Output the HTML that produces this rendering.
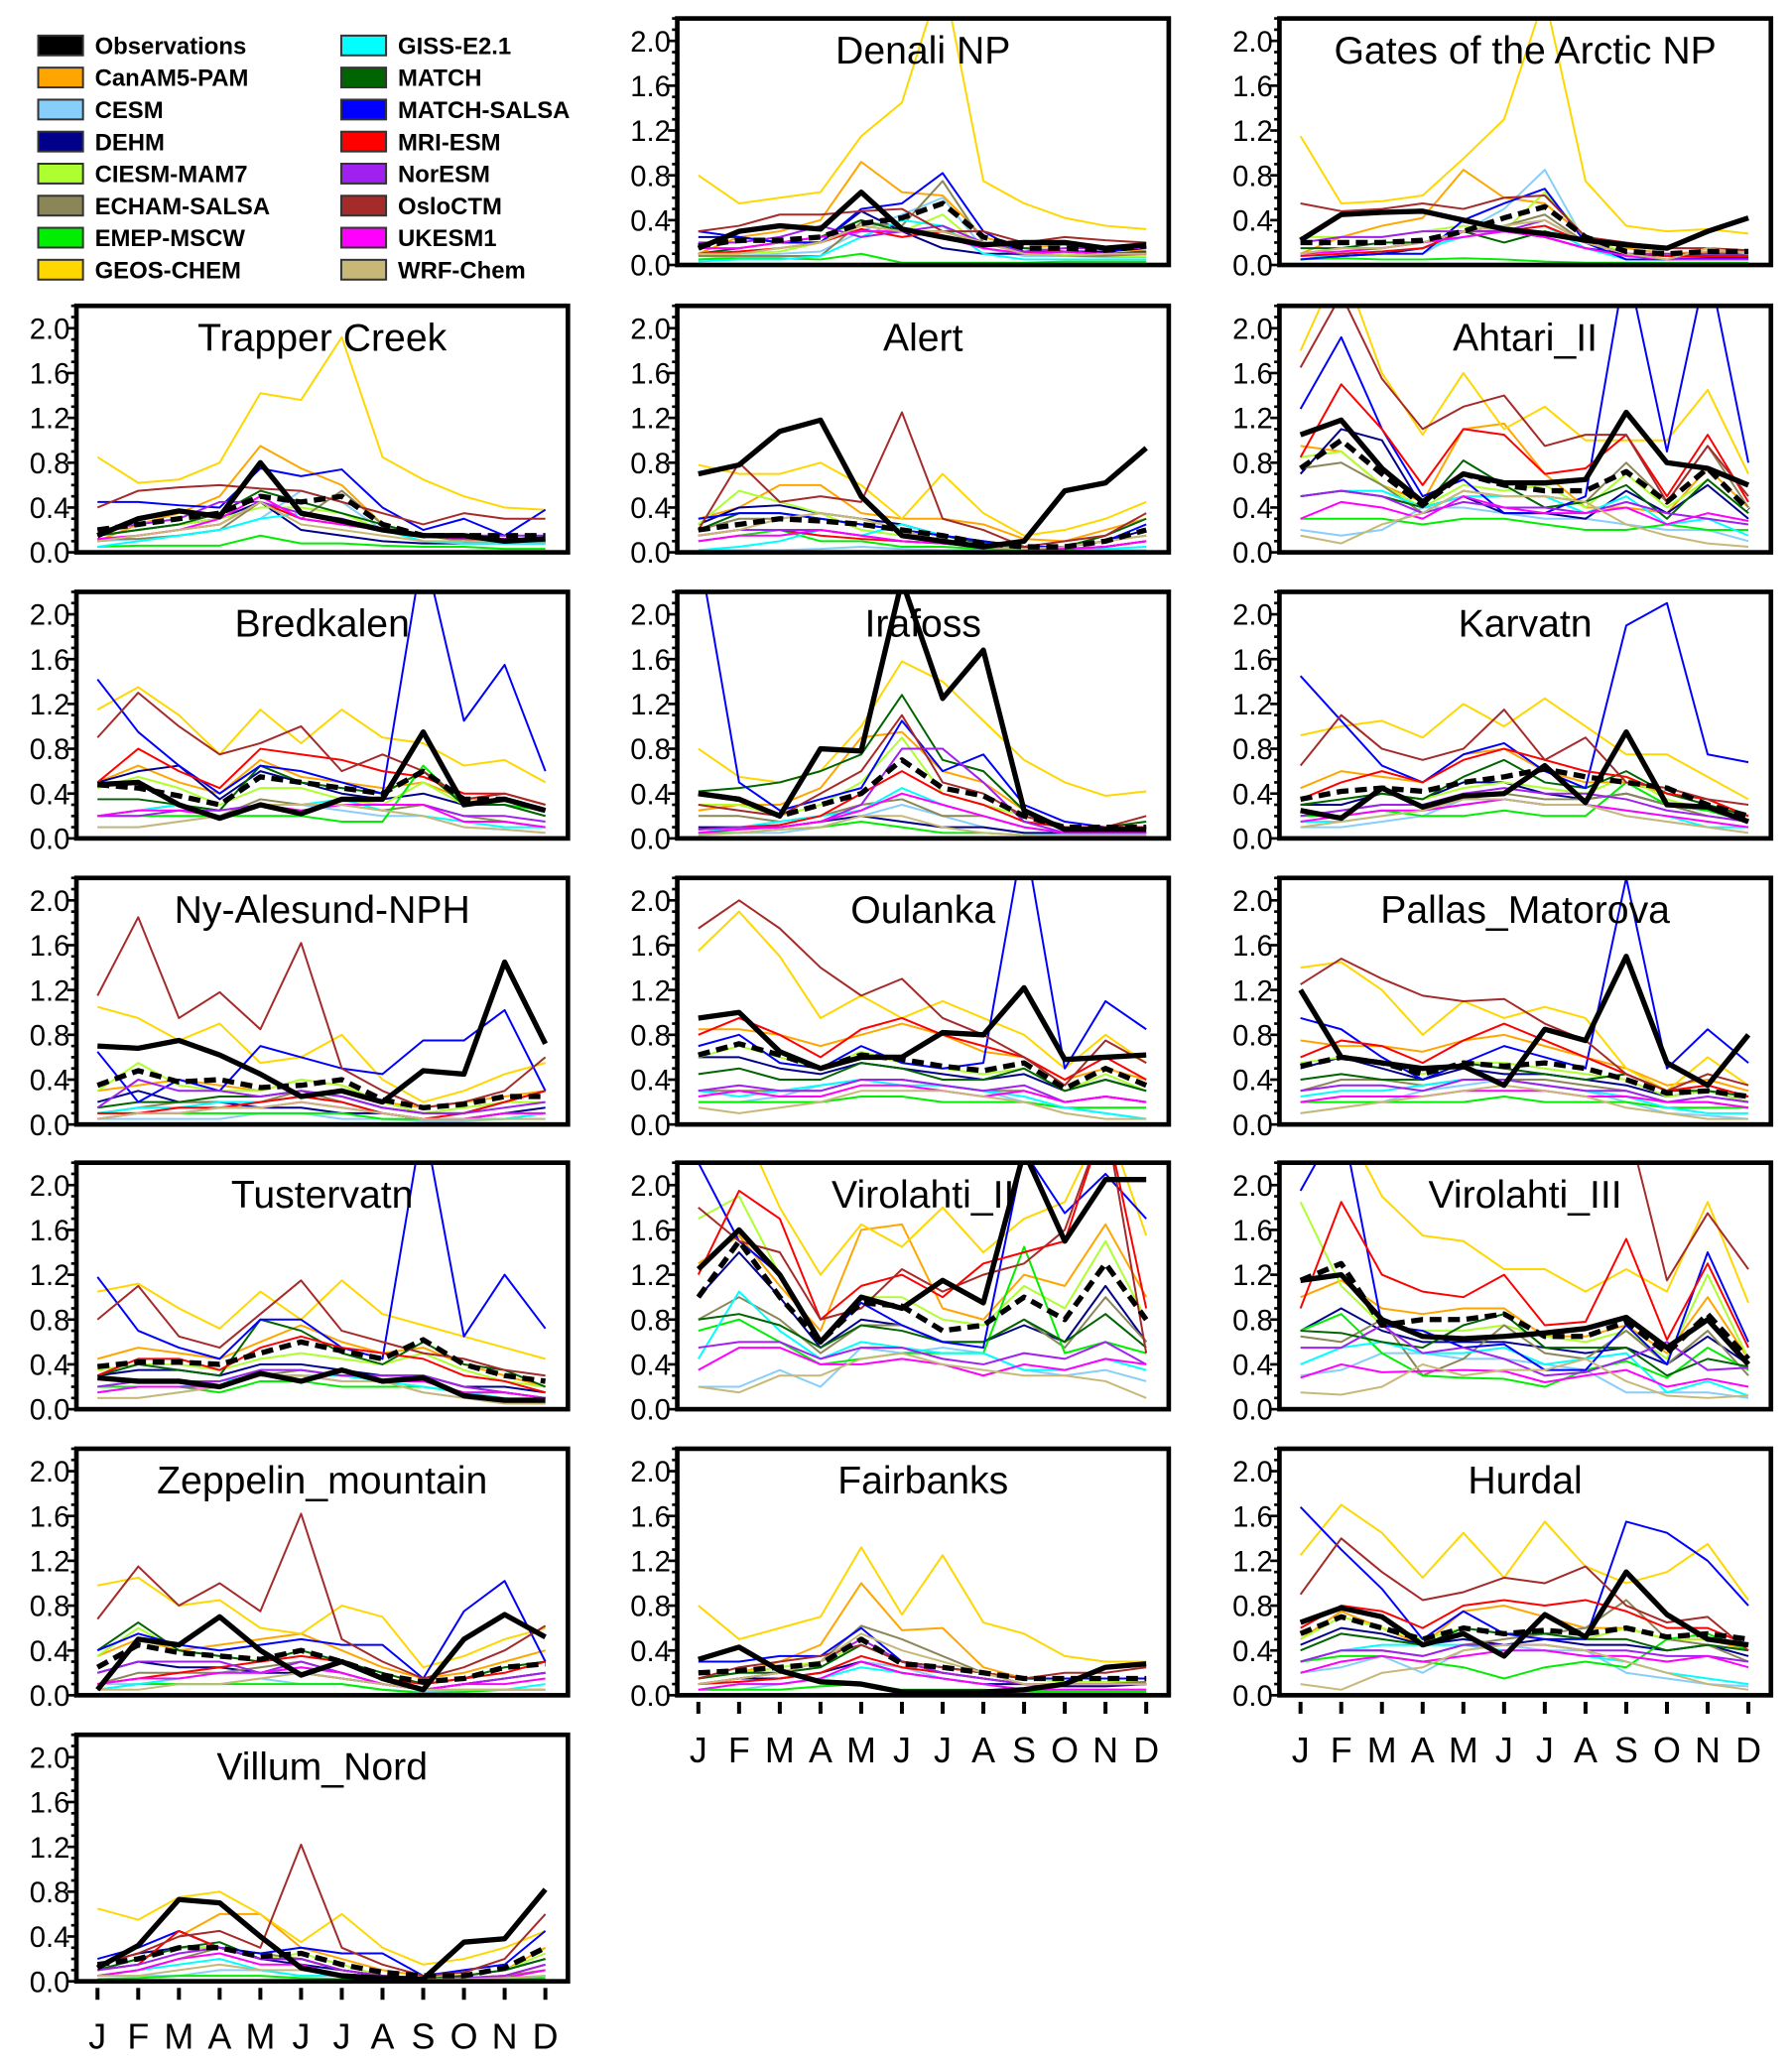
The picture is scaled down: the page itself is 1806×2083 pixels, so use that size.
<!DOCTYPE html>
<html><head><meta charset="utf-8">
<style>
html,body{margin:0;padding:0;background:#fff;}
svg{display:block;font-family:"Liberation Sans",sans-serif;}
</style></head>
<body>
<svg id="chart" width="1806" height="2083" viewBox="0 0 1360 1568" preserveAspectRatio="none" xmlns="http://www.w3.org/2000/svg">
<rect x="0" y="0" width="1360" height="1568" fill="#fff"/>
</svg>
<script>
const months=["J","F","M","A","M","J","J","A","S","O","N","D"];
const sites=["Denali NP","Gates of the Arctic NP","Trapper Creek","Alert","Ahtari_II","Bredkalen","Irafoss","Karvatn","Ny-Alesund-NPH","Oulanka","Pallas_Matorova","Tustervatn","Virolahti_II","Virolahti_III","Zeppelin_mountain","Fairbanks","Hurdal","Villum_Nord"];
const yTicks=[0,0.4,0.8,1.2,1.6,2.0];
const yTickLabels=["0.0","0.4","0.8","1.2","1.6","2.0"];
const obs=[
[.15,.3,.35,.32,.65,.32,.25,.18,.2,.2,.15,.18],
[.22,.45,.47,.48,.4,.32,.28,.22,.18,.15,.3,.42],
[.15,.3,.37,.32,.8,.35,.28,.2,.15,.15,.1,.12],
[.7,.78,1.08,1.18,.5,.15,.1,.05,.1,.55,.62,.93],
[1.05,1.18,.75,.45,.7,.62,.62,.65,1.25,.8,.75,.6],
[.48,.5,.3,.18,.3,.22,.35,.35,.95,.3,.35,.25],
[.4,.35,.2,.8,.78,2.3,1.25,1.68,.25,.08,.08,.08],
[.25,.18,.45,.28,.38,.4,.65,.32,.95,.3,.28,.15],
[.7,.68,.75,.62,.45,.25,.3,.2,.48,.45,1.45,.72],
[.95,1.0,.65,.5,.6,.6,.82,.8,1.22,.58,.6,.62],
[1.2,.6,.55,.5,.52,.35,.85,.75,1.5,.55,.35,.8],
[.28,.25,.25,.2,.32,.25,.35,.25,.28,.12,.08,.08],
[1.25,1.6,1.2,.6,1.0,.9,1.15,.95,2.3,1.5,2.05,2.05],
[1.15,1.2,.8,.65,.63,.65,.68,.72,.82,.55,.8,.4],
[.05,.5,.45,.7,.4,.18,.3,.15,.05,.5,.72,.52],
[.32,.43,.22,.12,.1,.03,.03,.03,.05,.1,.25,.28],
[.65,.78,.7,.45,.55,.35,.72,.52,1.1,.72,.5,.45],
[.12,.32,.73,.7,.4,.12,.05,.03,.02,.35,.38,.82]];
const ensMean=[
[.17,.22,.22,.25,.37,.42,.55,.25,.15,.15,.13,.17],
[.2,.2,.2,.22,.3,.42,.52,.25,.12,.1,.12,.12],
[.2,.25,.3,.35,.5,.45,.5,.25,.15,.15,.15,.15],
[.2,.25,.3,.28,.25,.2,.15,.08,.05,.05,.1,.2],
[.75,1.0,.7,.42,.7,.6,.55,.55,.72,.45,.75,.38],
[.48,.45,.38,.3,.55,.5,.45,.4,.6,.35,.35,.25],
[.4,.35,.2,.3,.4,.7,.45,.38,.2,.1,.1,.1],
[.35,.42,.45,.42,.5,.55,.62,.55,.5,.45,.3,.2],
[.35,.48,.38,.4,.33,.35,.4,.22,.15,.18,.25,.25],
[.62,.72,.62,.5,.62,.58,.52,.48,.55,.32,.5,.35],
[.52,.6,.55,.45,.55,.52,.55,.5,.4,.28,.3,.25],
[.38,.42,.42,.4,.5,.6,.52,.45,.62,.4,.3,.25],
[1.0,1.5,1.0,.6,.95,.92,.7,.75,1.0,.8,1.3,.8],
[1.15,1.3,.75,.8,.8,.85,.65,.65,.78,.5,.85,.45],
[.25,.45,.38,.35,.32,.4,.3,.18,.12,.15,.25,.28],
[.2,.22,.25,.28,.5,.28,.25,.2,.15,.15,.15,.15],
[.55,.7,.6,.5,.6,.55,.58,.55,.6,.52,.55,.5],
[.15,.2,.3,.3,.22,.25,.15,.08,.05,.05,.12,.3]];
const canam=[
[.1,.25,.3,.4,.92,.65,.62,.25,.15,.18,.15,.12],[.1,.25,.35,.42,.85,.6,.55,.25,.15,.1,.12,.12],[.1,.25,.35,.5,.95,.75,.6,.25,.15,.15,.12,.12],[.3,.4,.6,.6,.35,.3,.3,.25,.12,.1,.2,.3],[.95,.9,.6,.45,1.1,1.15,.7,.4,.4,.35,.75,.4],[.5,.65,.5,.4,.7,.55,.5,.45,.5,.35,.35,.25],[.25,.3,.3,.45,.9,.95,.6,.5,.25,.1,.1,.15],[.45,.6,.55,.5,.75,.8,.6,.5,.5,.4,.35,.2],[.3,.35,.4,.35,.3,.4,.35,.2,.15,.2,.25,.3],[.85,.85,.8,.7,.8,.9,.8,.65,.6,.4,.5,.4],[.75,.7,.7,.65,.75,.8,.7,.6,.5,.35,.4,.3],[.45,.55,.5,.45,.6,.75,.6,.5,.55,.4,.3,.2],[1.3,1.55,1.1,.7,1.6,1.65,.9,.8,1.2,1.1,1.65,1.0],[1.0,1.15,.9,.85,.9,.9,.65,.65,.75,.5,1.0,.45],[.35,.5,.4,.45,.5,.55,.4,.25,.15,.2,.3,.4],[.15,.2,.3,.45,1.0,.58,.6,.25,.15,.15,.15,.15],[.5,.75,.6,.45,.75,.8,.7,.6,.6,.5,.5,.4],[.15,.25,.4,.6,.6,.3,.2,.1,.05,.05,.1,.3]];
const cesm=[
[.05,.08,.1,.12,.3,.45,.6,.15,.08,.08,.07,.07],[.05,.08,.1,.1,.3,.5,.85,.2,.05,.05,.05,.05],[.1,.12,.15,.2,.3,.55,.45,.2,.1,.08,.08,.08],[.02,.02,.02,.03,.05,.03,.02,.02,.02,.02,.02,.02],[.2,.15,.2,.4,.4,.35,.3,.3,.25,.2,.2,.1],[.1,.1,.15,.2,.3,.3,.25,.2,.2,.1,.08,.05],[.05,.05,.05,.1,.2,.3,.2,.1,.05,.03,.03,.03],[.1,.1,.15,.2,.35,.35,.3,.3,.2,.15,.1,.05],[.05,.05,.05,.05,.1,.1,.05,.05,.03,.03,.05,.05],[.2,.2,.25,.35,.4,.4,.35,.3,.2,.15,.1,.05],[.1,.15,.2,.3,.35,.4,.35,.3,.2,.1,.08,.05],[.1,.1,.15,.2,.3,.3,.25,.25,.15,.1,.08,.05],[.2,.2,.35,.2,.55,.5,.55,.5,.35,.3,.35,.25],[.3,.35,.5,.5,.45,.45,.4,.35,.15,.15,.15,.1],[.1,.1,.1,.1,.15,.1,.1,.05,.03,.05,.05,.05],[.05,.05,.1,.15,.3,.25,.15,.1,.05,.05,.05,.05],[.2,.25,.35,.2,.4,.45,.4,.4,.2,.15,.1,.08],[.05,.05,.05,.1,.1,.05,.05,.03,.02,.02,.03,.05]];
const dehm=[
[.25,.25,.2,.2,.48,.3,.15,.1,.1,.12,.12,.15],[.05,.08,.1,.15,.3,.3,.25,.15,.1,.08,.07,.07],[.15,.2,.25,.3,.45,.2,.15,.1,.08,.08,.08,.08],[.25,.4,.42,.35,.3,.25,.15,.1,.05,.05,.1,.2],[.7,1.1,1.0,.4,.5,.35,.35,.3,.55,.35,.6,.3],[.5,.6,.65,.35,.6,.5,.4,.35,.4,.3,.3,.2],[.1,.1,.1,.15,.2,.15,.1,.1,.05,.05,.05,.05],[.3,.3,.4,.35,.5,.5,.4,.35,.4,.3,.25,.15],[.2,.3,.2,.2,.15,.15,.1,.1,.05,.05,.1,.15],[.6,.6,.5,.45,.55,.5,.45,.4,.45,.3,.4,.3],[.5,.6,.5,.4,.5,.45,.45,.4,.35,.25,.3,.2],[.3,.35,.35,.3,.4,.4,.35,.3,.3,.2,.2,.15],[1.0,1.4,1.0,.55,.8,.75,.6,.6,.75,.6,1.1,.6],[.7,.9,.7,.6,.6,.6,.55,.5,.55,.4,.65,.4],[.2,.3,.25,.25,.2,.2,.15,.1,.05,.1,.15,.2],[.1,.15,.15,.2,.3,.2,.15,.1,.1,.08,.08,.1],[.45,.6,.55,.45,.5,.45,.5,.45,.45,.4,.45,.35],[.15,.25,.3,.3,.2,.15,.1,.05,.03,.05,.1,.2]];
const ciesm=[
[.08,.1,.12,.2,.35,.3,.45,.15,.1,.1,.08,.08],[.25,.25,.25,.3,.35,.3,.65,.25,.1,.08,.1,.1],[.15,.2,.25,.3,.4,.4,.35,.2,.1,.1,.1,.1],[.25,.55,.45,.35,.2,.15,.1,.05,.05,.05,.1,.15],[.85,.9,.6,.4,.6,.55,.6,.4,.7,.4,.65,.35],[.45,.55,.45,.3,.45,.45,.35,.3,.5,.3,.3,.2],[.3,.3,.2,.3,.5,.9,.4,.3,.2,.1,.1,.1],[.3,.35,.4,.35,.45,.5,.45,.4,.55,.35,.25,.15],[.3,.55,.35,.3,.3,.4,.35,.2,.1,.15,.2,.2],[.6,.7,.6,.5,.65,.55,.5,.45,.5,.3,.45,.3],[.55,.6,.55,.45,.55,.55,.5,.45,.4,.25,.3,.2],[.35,.4,.4,.35,.45,.5,.45,.4,.5,.35,.25,.2],[1.7,1.9,1.2,.6,1.0,1.0,.8,.75,1.1,.9,1.5,.8],[1.85,1.1,.75,.7,.7,.75,.65,.6,.7,.45,1.2,.45],[.35,.6,.4,.35,.3,.4,.3,.2,.1,.15,.25,.3],[.15,.2,.25,.3,.45,.3,.25,.2,.15,.12,.12,.12],[.5,.7,.6,.5,.6,.55,.55,.5,.6,.5,.5,.45],[.1,.2,.3,.3,.2,.25,.15,.05,.03,.05,.1,.25]];
const echam=[
[.08,.08,.08,.08,.38,.35,.75,.2,.1,.08,.08,.1],[.1,.15,.15,.2,.3,.35,.45,.2,.1,.05,.08,.1],[.12,.12,.15,.2,.45,.3,.55,.25,.15,.1,.08,.1],[.2,.3,.3,.35,.3,.2,.1,.05,.05,.05,.1,.15],[.75,.8,.6,.35,.55,.5,.5,.45,.8,.45,.95,.4],[.2,.25,.3,.2,.35,.3,.3,.25,.3,.2,.15,.1],[.2,.2,.15,.2,.3,.35,.2,.2,.1,.05,.05,.05],[.2,.25,.3,.3,.35,.4,.35,.35,.4,.3,.2,.15],[.1,.15,.2,.2,.2,.3,.2,.1,.05,.05,.1,.1],[.3,.3,.3,.3,.4,.4,.35,.3,.3,.2,.25,.2],[.3,.4,.4,.35,.4,.4,.4,.35,.3,.2,.2,.15],[.2,.25,.25,.25,.3,.35,.3,.3,.3,.2,.15,.1],[.8,1.0,.8,.5,.75,.75,.6,.6,.8,.55,1.0,.6],[.65,.6,.8,.3,.45,.75,.5,.45,.7,.4,.7,.3],[.1,.2,.2,.2,.25,.3,.2,.1,.05,.1,.15,.2],[.1,.15,.2,.3,.62,.5,.35,.2,.1,.1,.1,.12],[.3,.4,.4,.35,.45,.5,.55,.6,.85,.5,.45,.3],[.05,.1,.2,.3,.25,.2,.1,.05,.02,.03,.05,.1]];
const emep=[
[.05,.06,.06,.05,.1,.02,.02,.02,.02,.03,.03,.03],[.05,.06,.05,.05,.06,.05,.03,.02,.02,.02,.02,.02],[.05,.06,.06,.06,.15,.08,.08,.06,.05,.05,.03,.03],[.1,.15,.2,.1,.1,.05,.05,.03,.02,.02,.05,.1],[.3,.3,.3,.25,.3,.3,.25,.2,.2,.25,.2,.2],[.2,.2,.2,.2,.2,.2,.15,.15,.65,.3,.3,.25],[.05,.05,.08,.1,.15,.1,.05,.05,.03,.02,.02,.02],[.2,.2,.25,.2,.2,.25,.2,.2,.5,.3,.25,.15],[.1,.1,.1,.1,.1,.1,.1,.05,.05,.05,.05,.1],[.2,.2,.2,.2,.25,.25,.2,.2,.2,.15,.15,.15],[.2,.2,.2,.2,.2,.25,.2,.2,.2,.15,.15,.15],[.2,.2,.2,.15,.25,.25,.2,.2,.2,.15,.15,.1],[.7,.8,.6,.4,.45,.5,.5,.5,1.45,.5,.6,.5],[.7,.85,.5,.3,.28,.27,.2,.35,.43,.28,.55,.35],[.05,.1,.1,.1,.1,.1,.1,.05,.02,.03,.05,.05],[.05,.05,.05,.08,.1,.05,.05,.05,.03,.03,.03,.03],[.3,.35,.35,.3,.25,.15,.25,.3,.25,.5,.55,.4],[.02,.03,.05,.05,.05,.03,.02,.02,.01,.02,.02,.03]];
const geos=[
[.8,.55,.6,.65,1.15,1.45,2.6,.75,.55,.42,.35,.32],[1.15,.55,.57,.62,.95,1.3,2.4,.75,.35,.3,.32,.28],[.85,.62,.65,.8,1.42,1.36,1.92,.85,.65,.5,.4,.38],[.78,.7,.7,.8,.6,.3,.7,.35,.15,.2,.3,.45],[1.8,2.6,1.6,1.05,1.6,1.1,1.3,1.0,1.0,1.0,1.45,.7],[1.15,1.35,1.1,.75,1.15,.85,1.15,.9,.85,.65,.7,.5],[.8,.55,.5,.6,1.0,1.58,1.4,1.05,.7,.5,.38,.42],[.92,1.0,1.05,.9,1.2,1.0,1.25,1.0,.75,.75,.55,.35],[1.05,.95,.75,.9,.55,.6,.8,.4,.2,.3,.45,.55],[1.55,1.9,1.5,.95,1.15,.95,1.1,.95,.8,.5,.8,.55],[1.4,1.45,1.2,.8,1.1,.95,1.05,.95,.5,.3,.6,.35],[1.05,1.12,.9,.72,1.05,.8,1.15,.85,.75,.65,.55,.45],[2.6,2.6,1.8,1.2,1.65,1.45,1.8,1.4,1.7,1.85,2.6,1.55],[2.6,2.6,1.9,1.55,1.5,1.25,1.25,1.05,1.25,1.05,1.85,.95],[.98,1.05,.8,.85,.6,.55,.8,.7,.25,.35,.5,.6],[.8,.5,.6,.7,1.32,.72,1.25,.65,.55,.35,.3,.3],[1.25,1.7,1.45,1.05,1.45,1.05,1.55,1.15,1.0,1.1,1.35,.85],[.65,.55,.75,.8,.6,.35,.6,.3,.15,.2,.3,.45]];
const giss=[
[.03,.05,.05,.08,.25,.4,.35,.1,.05,.05,.05,.05],[.05,.1,.12,.15,.25,.3,.35,.15,.05,.05,.05,.05],[.05,.1,.15,.2,.3,.35,.3,.2,.1,.08,.08,.08],[.02,.05,.1,.2,.15,.25,.15,.08,.05,.03,.03,.05],[.5,.55,.55,.4,.5,.5,.5,.35,.5,.25,.3,.15],[.2,.25,.3,.2,.3,.3,.35,.25,.2,.15,.1,.1],[.05,.1,.15,.2,.25,.45,.3,.2,.1,.05,.05,.05],[.15,.15,.2,.25,.3,.35,.3,.3,.25,.2,.1,.1],[.1,.15,.15,.2,.2,.25,.2,.1,.05,.05,.05,.1],[.3,.25,.3,.35,.4,.35,.35,.3,.25,.15,.1,.05],[.25,.3,.3,.35,.4,.4,.35,.3,.25,.15,.1,.1],[.15,.2,.2,.25,.3,.3,.3,.25,.2,.15,.1,.05],[.45,1.05,.7,.45,.6,.55,.5,.5,.35,.35,.45,.35],[.4,.55,.6,.5,.5,.55,.4,.45,.5,.15,.25,.12],[.05,.1,.15,.2,.2,.25,.2,.1,.05,.05,.05,.1],[.05,.1,.1,.15,.25,.2,.15,.1,.05,.05,.05,.05],[.3,.4,.45,.45,.45,.4,.4,.35,.3,.2,.15,.1],[.05,.1,.15,.2,.1,.05,.05,.03,.02,.02,.03,.05]];
const match=[
[.1,.15,.2,.25,.4,.3,.3,.2,.15,.12,.1,.12],[.15,.15,.2,.2,.3,.2,.3,.2,.1,.08,.1,.1],[.15,.2,.25,.35,.55,.45,.35,.25,.15,.12,.1,.1],[.2,.35,.35,.3,.25,.2,.15,.08,.05,.05,.15,.3],[.5,.55,.5,.4,.82,.6,.4,.45,.6,.3,.65,.35],[.35,.35,.3,.25,.65,.5,.45,.4,.6,.3,.3,.2],[.42,.45,.5,.6,.75,1.28,.7,.6,.25,.1,.1,.15],[.3,.35,.4,.35,.55,.7,.5,.45,.6,.4,.3,.2],[.15,.2,.2,.25,.25,.3,.25,.15,.1,.1,.2,.3],[.45,.5,.4,.4,.55,.5,.4,.4,.5,.3,.4,.3],[.4,.45,.4,.4,.55,.5,.45,.4,.45,.3,.3,.25],[.3,.4,.35,.3,.8,.7,.5,.4,.6,.4,.35,.2],[.8,.85,.75,.55,.75,.7,.6,.6,.8,.6,.85,.55],[.7,.68,.6,.55,.75,.85,.55,.55,.55,.3,.45,.38],[.4,.65,.4,.35,.3,.4,.3,.2,.1,.15,.25,.3],[.15,.2,.2,.25,.45,.3,.2,.15,.1,.1,.1,.1],[.4,.55,.5,.45,.6,.55,.55,.5,.5,.4,.45,.4],[.1,.2,.3,.35,.2,.2,.1,.05,.02,.05,.1,.2]];
const msalsa=[
[.3,.25,.2,.2,.5,.55,.82,.3,.1,.12,.1,.2],[.05,.08,.1,.1,.4,.55,.68,.2,.05,.05,.06,.06],[.45,.45,.42,.4,.75,.68,.74,.4,.2,.3,.15,.38],[.3,.35,.35,.3,.25,.2,.15,.1,.05,.05,.1,.25],[1.28,1.92,1.1,.5,.65,.35,.35,.5,2.6,.9,2.6,.8],[1.42,.95,.65,.4,.65,.6,.5,.4,2.6,1.05,1.55,.6],[2.6,.5,.25,.35,.45,1.05,.6,.75,.3,.15,.1,.1],[1.45,1.05,.65,.5,.75,.85,.6,.45,1.9,2.1,.75,.68],[.65,.2,.4,.3,.7,.6,.5,.45,.75,.75,1.02,.3],[.7,.8,.55,.5,.7,.55,.5,.55,2.6,.5,1.1,.85],[.95,.85,.6,.4,.55,.7,.6,.5,2.2,.5,.85,.55],[1.18,.7,.55,.45,.8,.8,.55,.45,2.6,.65,1.2,.72],[2.2,1.5,1.2,.6,.95,.75,.6,.55,2.3,1.75,2.1,1.7],[1.95,2.6,.75,.7,.55,.58,.35,.35,.75,.4,1.4,.6],[.4,.55,.45,.4,.45,.5,.45,.45,.15,.75,1.02,.3],[.3,.3,.35,.35,.6,.3,.25,.2,.15,.15,.15,.15],[1.68,1.3,.95,.5,.75,.55,.5,.5,1.55,1.45,1.2,.8],[.2,.3,.45,.3,.25,.3,.25,.25,.05,.1,.15,.45]];
const mri=[
[.1,.12,.15,.2,.32,.25,.3,.2,.12,.12,.1,.1],[.08,.1,.12,.15,.3,.3,.35,.2,.1,.08,.08,.08],[.1,.15,.2,.25,.45,.3,.25,.2,.15,.12,.1,.1],[.15,.2,.2,.15,.12,.1,.08,.05,.03,.03,.05,.1],[.85,1.5,1.1,.6,1.1,1.05,.7,.75,1.05,.5,1.05,.45],[.5,.8,.6,.45,.8,.75,.7,.6,.55,.4,.4,.3],[.08,.1,.12,.2,.4,.6,.4,.3,.15,.1,.1,.1],[.35,.5,.6,.5,.7,.8,.7,.6,.55,.4,.35,.2],[.1,.1,.15,.15,.2,.25,.2,.1,.05,.1,.2,.3],[.8,.95,.8,.6,.85,.95,.8,.7,.6,.4,.6,.4],[.6,.75,.7,.55,.75,.9,.75,.6,.45,.3,.35,.25],[.3,.45,.45,.35,.55,.65,.55,.5,.45,.3,.25,.15],[1.2,1.95,1.7,.8,1.1,1.2,1.0,1.3,1.4,1.5,2.6,.9],[.9,1.85,1.2,1.05,1.0,1.2,.75,.78,1.52,.62,1.3,.55],[.1,.15,.2,.25,.3,.35,.3,.15,.1,.15,.2,.3],[.1,.12,.15,.2,.35,.25,.2,.15,.1,.1,.1,.1],[.6,.8,.75,.6,.8,.85,.8,.85,.75,.6,.6,.45],[.1,.15,.45,.3,.2,.2,.1,.05,.02,.03,.05,.15]];
const noresm=[
[.2,.2,.25,.35,.25,.3,.35,.2,.12,.15,.15,.15],[.2,.25,.25,.3,.3,.3,.4,.2,.1,.1,.1,.1],[.2,.25,.3,.45,.45,.35,.3,.2,.15,.15,.15,.15],[.15,.2,.2,.2,.15,.1,.08,.05,.03,.03,.05,.1],[.5,.55,.5,.35,.45,.4,.4,.35,.45,.35,.3,.25],[.2,.2,.25,.25,.3,.3,.3,.3,.3,.2,.2,.15],[.08,.1,.1,.15,.3,.8,.8,.5,.15,.05,.05,.05],[.2,.25,.3,.3,.4,.45,.4,.4,.35,.25,.2,.15],[.15,.4,.3,.3,.25,.3,.25,.15,.1,.1,.15,.2],[.3,.35,.3,.3,.4,.4,.35,.3,.35,.2,.25,.2],[.3,.35,.35,.3,.4,.4,.35,.3,.3,.2,.25,.2],[.2,.25,.25,.25,.35,.35,.3,.3,.3,.2,.15,.1],[.55,.6,.6,.45,.55,.55,.45,.4,.5,.45,.6,.4],[.55,.55,.75,.5,.55,.45,.3,.33,.45,.6,.35,.37],[.2,.3,.3,.3,.2,.3,.2,.1,.05,.1,.15,.2],[.1,.15,.2,.3,.5,.3,.2,.15,.1,.1,.1,.1],[.3,.4,.4,.35,.45,.45,.45,.4,.4,.35,.35,.3],[.1,.15,.25,.3,.2,.2,.1,.05,.02,.03,.05,.15]];
const oslo=[
[.3,.35,.45,.45,.48,.5,.3,.3,.2,.25,.22,.2],[.55,.48,.5,.55,.5,.6,.62,.25,.2,.15,.15,.13],[.4,.55,.58,.6,.57,.55,.45,.35,.25,.35,.3,.3],[.2,.8,.45,.5,.45,1.25,.3,.2,.05,.1,.15,.35],[1.65,2.3,1.55,1.1,1.3,1.4,.95,1.05,1.05,.45,.95,.5],[.9,1.3,1.0,.75,.85,1.0,.6,.75,.6,.35,.4,.3],[.3,.25,.2,.4,.6,1.1,.5,.4,.2,.1,.1,.2],[.65,1.1,.8,.7,.8,1.15,.7,.9,.5,.45,.35,.3],[1.15,1.85,.95,1.18,.85,1.62,.5,.3,.15,.2,.3,.6],[1.75,2.0,1.75,1.4,1.15,1.3,.95,.8,.6,.35,.75,.55],[1.25,1.48,1.3,1.15,1.1,1.12,.9,.75,.45,.3,.45,.35],[.8,1.1,.65,.55,.85,1.15,.7,.6,.5,.45,.35,.3],[1.8,1.5,1.4,.8,.9,1.25,1.05,1.2,1.3,1.6,2.6,.5],[2.6,2.6,2.6,2.6,2.6,2.6,2.6,2.3,2.6,1.15,1.75,1.25],[.68,1.15,.8,1.0,.75,1.62,.5,.3,.15,.25,.4,.62],[.15,.25,.3,.35,.45,.3,.25,.2,.15,.2,.2,.25],[.9,1.4,1.1,.85,.92,1.05,1.0,1.15,.8,.65,.7,.4],[.15,.25,.4,.45,.3,1.22,.3,.15,.05,.08,.2,.6]];
const ukesm=[
[.15,.15,.2,.25,.3,.3,.25,.15,.1,.12,.1,.1],[.1,.12,.15,.2,.25,.3,.25,.15,.08,.05,.05,.05],[.12,.15,.2,.3,.5,.3,.25,.2,.15,.12,.12,.12],[.1,.15,.15,.2,.15,.1,.08,.05,.03,.03,.05,.1],[.3,.45,.4,.3,.5,.4,.35,.35,.4,.25,.35,.28],[.2,.25,.25,.2,.3,.25,.3,.3,.3,.15,.15,.1],[.05,.08,.1,.15,.25,.4,.3,.2,.1,.05,.05,.05],[.15,.2,.25,.25,.3,.35,.3,.3,.25,.2,.15,.1],[.05,.1,.1,.15,.15,.2,.15,.1,.05,.05,.1,.1],[.25,.3,.25,.25,.35,.35,.3,.25,.3,.2,.25,.2],[.2,.25,.25,.25,.3,.3,.3,.25,.25,.2,.2,.15],[.15,.2,.2,.2,.3,.3,.25,.25,.25,.15,.15,.1],[.35,.55,.55,.4,.4,.45,.4,.3,.4,.35,.45,.4],[.28,.4,.33,.34,.35,.34,.24,.3,.35,.2,.27,.2],[.1,.15,.15,.2,.2,.25,.2,.1,.05,.1,.1,.15],[.05,.1,.1,.15,.3,.2,.15,.1,.05,.05,.05,.05],[.2,.3,.35,.3,.35,.4,.4,.35,.35,.3,.35,.25],[.05,.1,.2,.25,.15,.15,.05,.03,.02,.02,.03,.1]];
const wrf=[
[.1,.1,.15,.2,.35,.3,.3,.2,.1,.08,.1,.1],[.1,.15,.15,.2,.3,.35,.4,.2,.1,.05,.15,.1],[.1,.15,.2,.25,.45,.25,.2,.15,.1,.1,.1,.1],[.15,.2,.3,.35,.3,.2,.1,.05,.03,.05,.1,.15],[.15,.08,.25,.35,.55,.5,.5,.45,.25,.15,.08,.05],[.1,.1,.15,.2,.3,.3,.3,.25,.2,.1,.08,.05],[.03,.05,.08,.1,.2,.2,.1,.05,.03,.02,.02,.02],[.1,.15,.2,.25,.35,.35,.3,.3,.2,.15,.1,.05],[.05,.1,.1,.15,.15,.2,.15,.1,.05,.05,.05,.05],[.15,.1,.15,.2,.3,.3,.3,.25,.2,.1,.05,.05],[.1,.15,.2,.25,.3,.35,.3,.25,.15,.1,.05,.05],[.1,.1,.15,.2,.3,.3,.25,.25,.15,.1,.05,.05],[.2,.15,.3,.3,.45,.5,.4,.35,.3,.3,.25,.1],[.15,.13,.2,.4,.3,.35,.35,.45,.25,.12,.1,.12],[.05,.05,.1,.1,.15,.2,.15,.1,.05,.05,.05,.05],[.1,.15,.2,.3,.55,.4,.3,.2,.1,.1,.1,.1],[.1,.05,.2,.25,.4,.45,.45,.4,.3,.2,.1,.05],[.05,.05,.1,.15,.1,.1,.05,.03,.02,.02,.03,.05]];
const modelNames=["CanAM5-PAM","CESM","DEHM","CIESM-MAM7","ECHAM-SALSA","EMEP-MSCW","GEOS-CHEM","GISS-E2.1","MATCH","MATCH-SALSA","MRI-ESM","NorESM","OsloCTM","UKESM1","WRF-Chem"];
const modelData=[canam,cesm,dehm,ciesm,echam,emep,geos,giss,match,msalsa,mri,noresm,oslo,ukesm,wrf];
const modelColors=["#FFA500","#87CEFA","#00008B","#ADFF2F","#8B8658","#00EE00","#FFD700","#00FFFF","#006400","#0000FF","#FF0000","#A020F0","#A52A2A","#FF00FF","#C8B878"];

const NS="http://www.w3.org/2000/svg";
const svg=document.getElementById('chart');
function mk(tag,attrs,parent){const e=document.createElementNS(NS,tag);for(const k in attrs)e.setAttribute(k,attrs[k]);(parent||svg).appendChild(e);return e;}

// legend
const legNames=["Observations"].concat(modelNames);
const legColors=["#000"].concat(modelColors);
const legend=mk('g',{});


legNames.forEach((n,i)=>{
  const col=i<8?0:1, row=i%8;
  const x=col?258:28, y=26+row*24.3;
  const g=mk('g',{},legend);
  
  
  mk('rect',{x:x+1,y:y+1,width:34,height:15,fill:legColors[i],stroke:'#333','stroke-width':1.5},g);
  const t=mk('text',{x:x+44,y:y+15,'font-size':18,'font-weight':'bold',fill:'#000'},g);
  t.textContent=n;
});

// panels
const colX=[58,514,971], rowY=[14,232,449,666,882,1099,1316];
const slots=[[0,1],[0,2],[1,0],[1,1],[1,2],[2,0],[2,1],[2,2],[3,0],[3,1],[3,2],[4,0],[4,1],[4,2],[5,0],[5,1],[5,2],[6,0]];
const W=373,H=187,UNIT=85;
sites.forEach((site,si)=>{
  const [r,c]=slots[si];
  const x0=colX[c], y0=rowY[r], yb=y0+H;
  const xs=i=>x0+16+i*30.9;
  const ys=v=>yb-v*UNIT;
  const g=mk('g',{});
  
  
  const cid='clip'+si;
  const cp=mk('clipPath',{id:cid},g);
  mk('rect',{x:x0,y:y0,width:W,height:H},cp);
  for(let k=0;k<=22;k++){
    const yy=ys(k/10);
    mk('line',{x1:x0-(k%4===0?7:4),x2:x0,y1:yy,y2:yy,stroke:'#000','stroke-width':2},g);
  }
  yTicks.forEach((v,i)=>{
    const t=mk('text',{x:x0-5,y:ys(v)+8,'font-size':22,'text-anchor':'end',fill:'#000'},g);
    
    
    t.textContent=yTickLabels[i];
  });
  const lines=mk('g',{'clip-path':'url(#'+cid+')'},g);
  const path=arr=>arr.map((v,i)=>(i?'L':'M')+xs(i).toFixed(1)+','+ys(v).toFixed(1)).join('');
  modelData.forEach((md,mi)=>{
    const p=mk('path',{d:path(md[si]),fill:'none',stroke:modelColors[mi],'stroke-width':1.5,'stroke-linejoin':'round'},lines);
    
    
  });
  const pm=mk('path',{d:path(ensMean[si]),fill:'none',stroke:'#000','stroke-width':4,'stroke-dasharray':'9,5','stroke-linejoin':'round'},lines);
  
  
  const po=mk('path',{d:path(obs[si]),fill:'none',stroke:'#000','stroke-width':4,'stroke-linejoin':'round'},lines);
  
  
  const fr=mk('rect',{x:x0,y:y0,width:W,height:H,fill:'none',stroke:'#000','stroke-width':3.5},g);
  
  
  const tt=mk('text',{x:x0+W/2,y:y0+34,'font-size':29.5,'text-anchor':'middle',fill:'#000'},g);
  
  
  tt.textContent=site;
  const bottom=(r===5&&c>0)||(r===6);
  if(bottom){
    months.forEach((m,i)=>{
      mk('line',{x1:xs(i),x2:xs(i),y1:yb+5,y2:yb+14,stroke:'#000','stroke-width':3},g);
      const t=mk('text',{x:xs(i),y:yb+51,'font-size':27,'text-anchor':'middle',fill:'#000'},g);
      
      
      t.textContent=m;
    });
  }
});
</script>
</body></html>
